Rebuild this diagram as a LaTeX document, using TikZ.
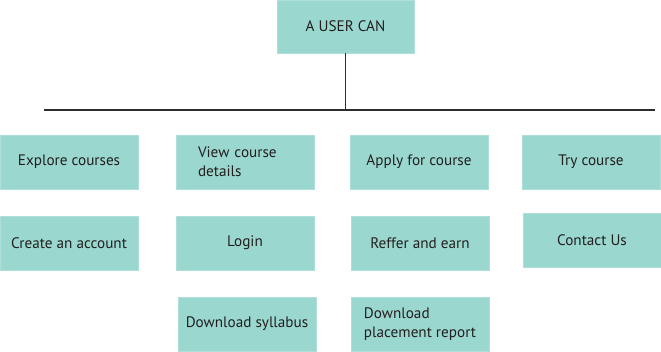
\documentclass[tikz,border=0pt]{standalone}
\usepackage{fontspec}
\setmainfont{PT Sans}
\usepackage{xcolor}
\usepackage{tikz}
\definecolor{ColCard}{RGB}{154,215,206}
\definecolor{ColText}{RGB}{35,31,32}
\definecolor{ColLine}{RGB}{45,45,45}

\begin{document}
\begin{tikzpicture}[
  x=1pt, y=-1pt,
  line cap=butt,
  every node/.style={font=\fontsize{15.2}{19}\selectfont, text=ColText},
  card/.style={fill=ColCard, draw=ColCard!80!white, line width=0.4pt,
    minimum width=138pt, minimum height=54pt, inner sep=0pt}
]
  \useasboundingbox (0,0) rectangle (661,351);

  % Root of the tree
  \node[card, minimum width=137pt, minimum height=53pt] (user) at (345.5,26.5) {A USER CAN};

  % Bus line under the root
  \coordinate (busl) at (44,110);
  \coordinate (busr) at (655,110);
  \draw[ColLine, line width=1.2pt] (busl) -- (busr);
  \draw[ColLine, line width=1.2pt] (user.south) -- (user.south |- busl);

  % First row
  \node[card] (explore) at (69,162)  {Explore courses};
  \node[card, align=left, text width=94pt] (view) at (245,162) {View course\\details};
  \node[card] (apply)   at (419,162) {Apply for course};
  \node[card] (try)     at (591,162) {Try course};

  % Second row
  \node[card] (create)  at (69,243)  {Create an account};
  \node[card] (login)   at (245,243) {Login};
  \node[card] (reffer)  at (420,243) {Reffer and earn};
  \node[card] (contact) at (592,240) {Contact Us};

  % Third row
  \node[card] (syllabus)  at (247,324) {Download syllabus};
  \node[card, align=left] (placement) at (420,324) {Download\\placement report};
\end{tikzpicture}
\end{document}
